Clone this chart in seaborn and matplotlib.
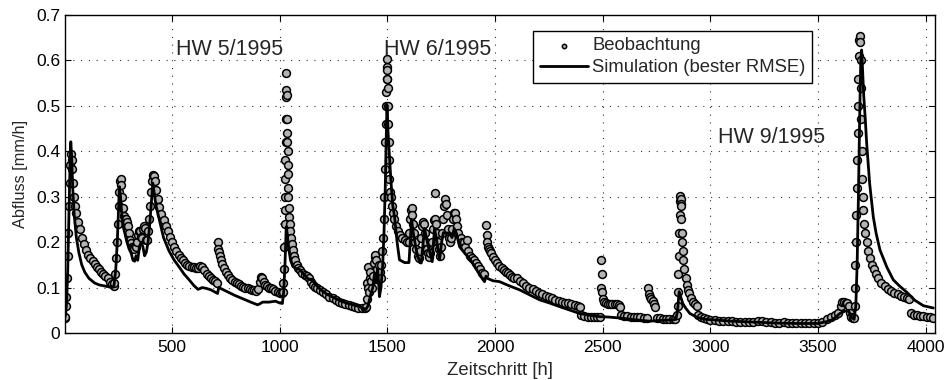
import matplotlib
matplotlib.use("Agg")
import matplotlib.pyplot as plt
import pandas as pd
import seaborn as sns

# ---------------- data ----------------
obs_hours = [
    0, 3, 6, 9, 12, 15, 18, 21, 24, 27, 30, 33, 36, 40, 45, 50, 55, 62, 70, 80,
    90, 100, 110, 120, 130, 140, 150, 160, 170, 180, 190, 200, 210, 220, 228,
    232, 236, 240, 244, 248, 252, 255, 258, 261, 264, 267, 271, 275, 280, 285,
    290, 295, 300, 305, 310, 315, 320, 325, 330, 335, 340, 345, 350, 355, 360,
    365, 370, 375, 380, 385, 390, 394, 398, 402, 406, 410, 414, 418,
    425, 432, 440, 450, 460, 470, 480, 490, 500, 510, 520, 530, 540, 550, 560,
    570, 580, 590, 600, 610, 620, 630, 640, 650, 660, 670, 680, 690, 700, 708,
    712, 715, 718, 722, 727, 733, 740, 750, 760, 770, 780, 790, 800, 810, 820,
    830, 840, 850, 860, 870, 880, 890, 900, 906, 912, 918, 925, 932, 940, 950,
    960, 970, 980, 990, 1000, 1008, 1013,
    1016, 1018, 1020, 1022, 1023, 1024, 1025, 1026, 1027, 1028, 1029, 1030,
    1031, 1032, 1033, 1034, 1035, 1036, 1037, 1038, 1039, 1040, 1042, 1044,
    1046, 1049, 1052, 1056, 1060, 1065, 1070, 1078, 1086, 1095, 1105, 1115,
    1125, 1135, 1145, 1155, 1165, 1175, 1185, 1200, 1215, 1230, 1245, 1260,
    1275, 1290, 1305, 1320, 1335, 1350, 1365, 1380, 1395,
    1400, 1403, 1406, 1409, 1412, 1415, 1418, 1421, 1424, 1428, 1432, 1436,
    1440, 1444, 1448, 1452, 1456, 1460, 1464, 1468, 1472, 1476, 1480, 1483,
    1486, 1489, 1491, 1493, 1494, 1495, 1496, 1497, 1498, 1499, 1500, 1501,
    1502, 1503, 1505, 1507, 1509, 1512,
    1515, 1520, 1525, 1530, 1540, 1550, 1560, 1570, 1580, 1590, 1598, 1602,
    1605, 1608, 1612, 1616, 1620, 1625, 1630, 1635, 1640, 1645, 1650, 1655,
    1660, 1665, 1670, 1675, 1680, 1685, 1690, 1695, 1700, 1705, 1710, 1715,
    1720, 1723, 1726, 1730, 1735, 1740, 1745, 1750, 1755, 1760, 1765, 1768,
    1772, 1776, 1780, 1785, 1790, 1795, 1800, 1805, 1810, 1815, 1820, 1825,
    1830, 1840, 1848, 1855, 1862, 1870, 1876, 1884, 1892, 1900, 1910, 1920,
    1930, 1940, 1948, 1958, 1961, 1964, 1967, 1970, 1975, 1980, 1990, 2000,
    2010, 2020, 2030, 2040, 2050, 2060, 2070, 2080, 2090, 2100, 2115, 2130,
    2145, 2160, 2175, 2190, 2205, 2220, 2235, 2250, 2265, 2280, 2295, 2310,
    2325, 2340, 2355, 2370, 2385, 2395,
    2400, 2415, 2430, 2445, 2460, 2475, 2488, 2492, 2494, 2496, 2498, 2500,
    2505, 2515, 2525, 2535, 2545, 2555, 2565, 2575, 2580, 2585, 2600, 2615,
    2630, 2645, 2660, 2675, 2690, 2705, 2712, 2716, 2720, 2726, 2732, 2738,
    2744, 2750, 2765, 2780, 2795, 2810, 2825, 2838,
    2845, 2848, 2850, 2852, 2854, 2856, 2858, 2860, 2861, 2862, 2863, 2864,
    2866, 2868, 2870, 2872, 2875, 2880, 2885, 2890, 2895, 2900, 2910, 2920,
    2930, 2936, 2942, 2955, 2970, 2985, 3000, 3020, 3040, 3060, 3080, 3100,
    3120, 3140, 3160, 3180, 3200, 3220, 3240, 3260, 3280, 3300, 3320, 3340,
    3360, 3380, 3400, 3420, 3440, 3460, 3480, 3500, 3520, 3540, 3560, 3580,
    3595, 3605, 3612, 3620, 3628, 3636, 3642, 3648, 3655, 3662, 3668,
    3670, 3672, 3674, 3676, 3678, 3680, 3682, 3684, 3686, 3688, 3690, 3692,
    3694, 3696, 3698, 3700, 3702, 3704, 3706, 3708, 3711, 3715, 3720, 3726,
    3733, 3740, 3750, 3760, 3770, 3780, 3795, 3810, 3825, 3840, 3855, 3870,
    3885, 3900, 3915, 3925, 3932, 3945, 3960, 3975, 3990, 4005, 4020, 4035,
]
obs_flow = [
    0.033, 0.035, 0.06, 0.08, 0.12, 0.17, 0.22, 0.28, 0.33, 0.37, 0.395, 0.38,
    0.36, 0.33, 0.3, 0.28, 0.265, 0.245, 0.228, 0.21, 0.195, 0.182, 0.172,
    0.165, 0.158, 0.152, 0.146, 0.14, 0.135, 0.13, 0.125, 0.12, 0.113, 0.107,
    0.103,
    0.11, 0.13, 0.165, 0.2, 0.24, 0.28, 0.31, 0.335, 0.34, 0.325, 0.3, 0.275,
    0.258, 0.25, 0.25, 0.245, 0.235, 0.22, 0.205, 0.198, 0.19, 0.188, 0.185,
    0.19, 0.2, 0.215, 0.225, 0.225, 0.212, 0.21, 0.228, 0.235, 0.232, 0.205,
    0.205, 0.225, 0.25, 0.28, 0.31, 0.335, 0.348, 0.345, 0.335,
    0.315, 0.295, 0.278, 0.262, 0.248, 0.235, 0.225, 0.212, 0.2, 0.19, 0.18,
    0.172, 0.165, 0.16, 0.155, 0.15, 0.147, 0.145, 0.145, 0.142, 0.142, 0.147,
    0.145, 0.138, 0.13, 0.125, 0.12, 0.117, 0.114, 0.11,
    0.2, 0.185, 0.178, 0.17, 0.16, 0.152, 0.143, 0.134, 0.127, 0.121, 0.117,
    0.113, 0.11, 0.107, 0.104, 0.102, 0.1, 0.099, 0.097, 0.095, 0.094, 0.093,
    0.097, 0.113, 0.123, 0.12, 0.112, 0.106, 0.103, 0.1, 0.098, 0.096, 0.093,
    0.09, 0.088, 0.087, 0.09,
    0.11, 0.14, 0.19, 0.24, 0.27, 0.3, 0.34, 0.38, 0.42, 0.47, 0.52, 0.572,
    0.535, 0.525, 0.47, 0.44, 0.42, 0.4, 0.37, 0.35, 0.32, 0.3, 0.275, 0.255,
    0.24, 0.225, 0.21, 0.195, 0.182, 0.17, 0.16, 0.15, 0.143, 0.138, 0.133,
    0.128, 0.125, 0.12, 0.112, 0.106, 0.102, 0.098, 0.095, 0.09, 0.085, 0.08,
    0.076, 0.072, 0.069, 0.066, 0.063, 0.061, 0.059, 0.057, 0.056, 0.055,
    0.054,
    0.058, 0.075, 0.11, 0.146, 0.1, 0.09, 0.12, 0.135, 0.115, 0.1, 0.125,
    0.155, 0.168, 0.172, 0.16, 0.14, 0.125, 0.15, 0.135, 0.12, 0.15, 0.18,
    0.21, 0.25, 0.3, 0.36, 0.42, 0.46, 0.5, 0.53, 0.56, 0.585, 0.603, 0.58,
    0.56, 0.54, 0.5, 0.46, 0.42, 0.38, 0.34, 0.31,
    0.3, 0.28, 0.265, 0.25, 0.235, 0.225, 0.215, 0.21, 0.205, 0.2, 0.2, 0.22,
    0.25, 0.27, 0.275, 0.26, 0.24, 0.22, 0.2, 0.185, 0.17, 0.165, 0.18, 0.21,
    0.235, 0.245, 0.24, 0.22, 0.2, 0.185, 0.175, 0.168, 0.175, 0.2, 0.23,
    0.248, 0.25, 0.308, 0.24, 0.22, 0.2, 0.185, 0.17, 0.19, 0.22, 0.25, 0.28,
    0.295, 0.285, 0.26, 0.23, 0.21, 0.2, 0.21, 0.23, 0.25, 0.265, 0.265, 0.25,
    0.235, 0.22, 0.21, 0.2, 0.2, 0.19, 0.205, 0.18, 0.17, 0.165, 0.16, 0.155,
    0.148, 0.14, 0.133, 0.13, 0.238, 0.215, 0.2, 0.19, 0.185, 0.18, 0.175,
    0.168, 0.16, 0.154, 0.148, 0.143, 0.139, 0.135, 0.131, 0.127, 0.124,
    0.122, 0.12, 0.114, 0.109, 0.104, 0.1, 0.096, 0.092, 0.088, 0.085, 0.082,
    0.079, 0.076, 0.073, 0.071, 0.069, 0.067, 0.065, 0.063, 0.061, 0.059,
    0.057,
    0.04, 0.037, 0.036, 0.036, 0.035, 0.035, 0.036, 0.1, 0.161, 0.13, 0.09,
    0.075, 0.068, 0.065, 0.064, 0.064, 0.064, 0.064, 0.063, 0.062, 0.058,
    0.04, 0.038, 0.037, 0.036, 0.036, 0.035, 0.035, 0.034, 0.034, 0.1, 0.085,
    0.08, 0.075, 0.07, 0.064, 0.058, 0.033, 0.032, 0.031, 0.031, 0.03, 0.03,
    0.03,
    0.04, 0.06, 0.09, 0.13, 0.17, 0.22, 0.26, 0.29, 0.302, 0.295, 0.285, 0.28,
    0.25, 0.22, 0.2, 0.18, 0.16, 0.14, 0.12, 0.105, 0.095, 0.087, 0.077,
    0.069, 0.063, 0.06, 0.04, 0.035, 0.032, 0.03, 0.029, 0.028, 0.027, 0.027,
    0.026, 0.026, 0.025, 0.025, 0.024, 0.024, 0.025, 0.026, 0.027, 0.025,
    0.024, 0.023, 0.023, 0.024, 0.023, 0.022, 0.022, 0.022, 0.021, 0.021,
    0.021, 0.022, 0.025, 0.03, 0.035, 0.04, 0.045, 0.06, 0.068, 0.068, 0.067,
    0.065, 0.06, 0.045, 0.035, 0.032, 0.033,
    0.06, 0.1, 0.15, 0.2, 0.26, 0.32, 0.38, 0.44, 0.5, 0.56, 0.61, 0.645,
    0.653, 0.64, 0.6, 0.54, 0.47, 0.4, 0.34, 0.3, 0.27, 0.24, 0.22, 0.2, 0.18,
    0.165, 0.15, 0.14, 0.13, 0.12, 0.11, 0.103, 0.097, 0.092, 0.088, 0.085,
    0.082, 0.08, 0.077, 0.075, 0.045, 0.04, 0.039, 0.038, 0.037, 0.036,
    0.035, 0.034,
]

sim_hours = [
    0, 5, 10, 15, 20, 25, 29, 33, 38, 45, 55, 67, 80, 95, 114, 140, 160, 190,
    222, 230, 238, 245, 250, 255, 260, 266, 272, 280, 290, 300, 310, 318, 326,
    332, 340, 348, 356, 364, 372, 380, 388, 396, 404, 410, 416, 425, 440, 460,
    486, 510, 533, 555, 579, 600, 620, 640, 660, 680, 700, 711, 716, 730, 760,
    790, 820, 845, 870, 897, 910, 920, 950, 980, 1000, 1012, 1018, 1024, 1030,
    1034, 1040, 1050, 1061, 1075, 1092, 1110, 1130, 1153, 1170, 1190, 1220,
    1250, 1280, 1310, 1340, 1370, 1400, 1410, 1420, 1432, 1440, 1448, 1455,
    1463, 1470, 1478, 1484, 1490, 1494, 1498, 1502, 1508, 1517, 1525, 1533,
    1545, 1556, 1580, 1600, 1606, 1612, 1620, 1635, 1650, 1657, 1664, 1672,
    1690, 1708, 1714, 1719, 1730, 1742, 1752, 1760, 1770, 1790, 1800, 1810,
    1820, 1835, 1860, 1880, 1897, 1920, 1940, 1951, 1958, 1966, 1990, 2021,
    2060, 2114, 2160, 2207, 2253, 2300, 2350, 2393, 2440, 2486, 2530, 2579,
    2650, 2719, 2780, 2827, 2840, 2848, 2855, 2862, 2872, 2885, 2905, 2940,
    2980, 3012, 3100, 3200, 3300, 3400, 3500, 3540, 3570, 3602, 3625, 3641,
    3655, 3668, 3676, 3682, 3688, 3694, 3699, 3703, 3707, 3713, 3720, 3726,
    3740, 3757, 3770, 3788, 3820, 3850, 3880, 3912, 3950, 3990, 4036,
]
sim_flow = [
    0.033, 0.04, 0.07, 0.14, 0.25, 0.36, 0.421, 0.39, 0.32, 0.26, 0.21, 0.176,
    0.15, 0.133, 0.12, 0.11, 0.106, 0.103, 0.1, 0.105, 0.14, 0.2, 0.26, 0.322,
    0.3, 0.26, 0.235, 0.22, 0.2, 0.185, 0.175, 0.16, 0.158, 0.17, 0.16, 0.19,
    0.2, 0.19, 0.17, 0.178, 0.2, 0.24, 0.29, 0.33, 0.31, 0.28, 0.25, 0.21,
    0.18, 0.16, 0.145, 0.13, 0.117, 0.105, 0.096, 0.1, 0.098, 0.095, 0.09,
    0.087, 0.1, 0.097, 0.09, 0.083, 0.077, 0.072, 0.067, 0.062, 0.065, 0.068,
    0.068, 0.07, 0.066, 0.065, 0.09, 0.15, 0.234, 0.22, 0.19, 0.16, 0.146,
    0.142, 0.14, 0.13, 0.12, 0.115, 0.105, 0.095, 0.085, 0.078, 0.071, 0.066,
    0.062, 0.058, 0.052, 0.06, 0.08, 0.1, 0.13, 0.11, 0.14, 0.08, 0.1, 0.15,
    0.22, 0.32, 0.42, 0.502, 0.45, 0.4, 0.33, 0.28, 0.256, 0.2, 0.161, 0.155,
    0.155, 0.2, 0.25, 0.22, 0.18, 0.155, 0.154, 0.19, 0.23, 0.19, 0.157, 0.2,
    0.23, 0.2, 0.161, 0.2, 0.221, 0.22, 0.22, 0.21, 0.23, 0.22, 0.19, 0.175,
    0.165, 0.153, 0.135, 0.12, 0.113, 0.125, 0.12, 0.115, 0.113, 0.105, 0.095,
    0.084, 0.073, 0.066, 0.058, 0.05, 0.043, 0.039, 0.036, 0.035, 0.033,
    0.029, 0.026, 0.028, 0.029, 0.03, 0.05, 0.091, 0.08, 0.065, 0.055, 0.043,
    0.034, 0.03, 0.029, 0.026, 0.024, 0.022, 0.021, 0.021, 0.025, 0.03, 0.043,
    0.048, 0.05, 0.035, 0.03, 0.06, 0.15, 0.3, 0.48, 0.6, 0.623, 0.58, 0.52,
    0.47, 0.42, 0.33, 0.256, 0.22, 0.183, 0.145, 0.117, 0.103, 0.09, 0.072,
    0.06, 0.055,
]

x_ticks = [500, 1000, 1500, 2000, 2500, 3000, 3500, 4000]
y_ticks = [0, 0.1, 0.2, 0.3, 0.4, 0.5, 0.6, 0.7]
y_tick_labels = ["0", "0.1", "0.2", "0.3", "0.4", "0.5", "0.6", "0.7"]
event_labels = ["HW 5/1995", "HW 6/1995", "HW 9/1995"]
event_x = [765, 1733, 3285]
event_y = [0.623, 0.625, 0.43]

# ---------------- plotting ----------------
sns.set_style("ticks")
plt.rcParams["font.family"] = ["Liberation Sans", "DejaVu Sans"]

fig = plt.figure(figsize=(9.49, 3.8), dpi=100)
ax = fig.add_axes([0.068, 0.1237, 0.9173, 0.8368])

obs = pd.DataFrame({"t": obs_hours, "q": obs_flow})
sim = pd.DataFrame({"t": sim_hours, "q": sim_flow})

sns.scatterplot(data=obs, x="t", y="q", ax=ax, s=32, color="#b4b4b4",
                edgecolor="black", linewidth=1.1, label="Beobachtung", zorder=2)
sns.lineplot(data=sim, x="t", y="q", ax=ax, color="black", linewidth=2.0,
             label="Simulation (bester RMSE)", zorder=3, estimator=None)

ax.set_xlim(0, 4044)
ax.set_ylim(0, 0.7)
ax.set_xticks(x_ticks)
ax.set_xticklabels([str(v) for v in x_ticks])
ax.set_yticks(y_ticks)
ax.set_yticklabels(y_tick_labels)

ax.set_axisbelow(True)
ax.grid(True, color="#333333", linestyle=(0, (1, 6)), linewidth=0.8)
ax.tick_params(direction="in", top=True, right=True, length=4, width=0.8,
               labelsize=12.5, colors="black")
ax.tick_params(axis="x", pad=5)
ax.tick_params(axis="y", pad=3)
for sp in ax.spines.values():
    sp.set_visible(True)
    sp.set_color("black")
    sp.set_linewidth(1.0)

ax.set_xlabel("Zeitschritt [h]", fontsize=13.3, labelpad=5)
ax.set_ylabel("Abfluss [mm/h]", fontsize=11.8, labelpad=6)

for lab, xx, yy in zip(event_labels, event_x, event_y):
    ax.text(xx, yy, lab, ha="center", va="center", fontsize=15.5)

leg = ax.legend(loc="upper right", bbox_to_anchor=(0.8587, 0.9497),
                borderaxespad=0, frameon=True, fancybox=False, framealpha=1,
                edgecolor="black", fontsize=13.3, handlelength=2.6,
                handletextpad=0.25, labelspacing=0.25, borderpad=0.35,
                markerscale=0.55)
leg.get_frame().set_linewidth(1.0)

fig.savefig("out.png", dpi=100)
